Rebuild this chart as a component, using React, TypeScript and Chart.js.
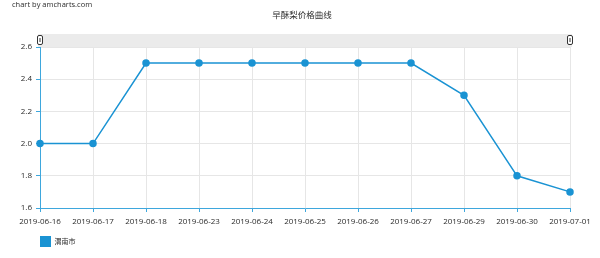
import React, { useEffect, useRef } from "react";
import { Chart, registerables } from "chart.js";

Chart.register(...registerables);

const categories = [
  "2019-06-16", "2019-06-17", "2019-06-18", "2019-06-23", "2019-06-24",
  "2019-06-25", "2019-06-26", "2019-06-27", "2019-06-29", "2019-06-30", "2019-07-01",
];
const prices = [2.0, 2.0, 2.5, 2.5, 2.5, 2.5, 2.5, 2.5, 2.3, 1.8, 1.7];
const seriesName = "渭南市";
const chartTitle = "早酥梨价格曲线";
const creditText = "chart by amcharts.com";

const FONT = "'Open Sans', 'Noto Sans CJK SC', sans-serif";
const LINE = "#1a93d3";
const AXIS = "#3ea7dd";
const TEXT = "#2b2b2b";

const decor = {
  id: "decor",
  beforeDraw(chart: any) {
    const { ctx, chartArea } = chart;
    ctx.save();
    // credit
    ctx.fillStyle = TEXT;
    ctx.font = `7.5px ${FONT}`;
    ctx.textBaseline = "middle";
    ctx.textAlign = "left";
    ctx.fillText(creditText, 12, 5);
    // title
    ctx.font = `8.5px ${FONT}`;
    ctx.textAlign = "center";
    ctx.fillText(chartTitle, 302, 15.5);
    // scrollbar band
    const bx = chartArea.left - 2;
    const bw = chartArea.right - chartArea.left + 4;
    ctx.fillStyle = "#ebebeb";
    ctx.fillRect(bx, 34, bw, 13);
    ctx.restore();
  },
  afterDraw(chart: any) {
    const { ctx, chartArea } = chart;
    ctx.save();
    const grip = (cx: number) => {
      ctx.fillStyle = "#fff";
      ctx.strokeStyle = "#333";
      ctx.lineWidth = 1;
      const x = cx - 2.5, y = 35.5, w = 5, h = 9;
      ctx.beginPath();
      ctx.roundRect(x, y, w, h, 1.5);
      ctx.fill();
      ctx.stroke();
      ctx.beginPath();
      ctx.moveTo(cx, 38);
      ctx.lineTo(cx, 42);
      ctx.stroke();
    };
    grip(chartArea.left);
    grip(chartArea.right);
    // legend
    ctx.fillStyle = LINE;
    ctx.fillRect(40, 236, 11, 11);
    ctx.fillStyle = TEXT;
    ctx.font = `7px ${FONT}`;
    ctx.textAlign = "left";
    ctx.textBaseline = "middle";
    ctx.fillText(chart.data.datasets[0].label, 54.5, 242);
    ctx.restore();
  },
};

export default function App() {
  const ref = useRef<HTMLCanvasElement>(null);
  useEffect(() => {
    document.body.style.margin = "0";
    const chart = new Chart(ref.current!, {
      type: "line",
      data: {
        labels: categories,
        datasets: [
          {
            label: seriesName,
            data: prices,
            borderColor: LINE,
            backgroundColor: LINE,
            borderWidth: 1.5,
            pointRadius: 3,
            pointBackgroundColor: LINE,
            pointBorderColor: LINE,
            tension: 0,
          },
        ],
      },
      options: {
        animation: false,
        responsive: false,
        layout: { padding: { left: 0, right: 30, top: 47, bottom: 0 } },
        plugins: {
          legend: { display: false },
          title: { display: false },
          tooltip: { enabled: false },
        },
        scales: {
          x: {
            offset: false,
            grid: { color: "#e6e6e6", tickColor: AXIS, tickLength: 4, offset: false },
            border: { color: AXIS, width: 1 },
            ticks: {
              color: TEXT,
              font: { family: FONT, size: 8 },
              maxRotation: 0,
              autoSkip: false,
              padding: 5,
            },
            afterFit(s: any) { s.height = 50; },
          },
          y: {
            min: 1.6,
            max: 2.6,
            grid: { color: "#e6e6e6", tickColor: AXIS, tickLength: 4 },
            border: { color: AXIS, width: 1 },
            ticks: {
              stepSize: 0.2,
              color: TEXT,
              font: { family: FONT, size: 8 },
              padding: 4,
              callback: (v: any) => Number(v).toFixed(1),
            },
            afterFit(s: any) { s.width = 40; },
          },
        },
      },
      plugins: [decor],
    });
    return () => chart.destroy();
  }, []);
  return <canvas ref={ref} width={600} height={258} style={{ display: "block" }} />;
}
